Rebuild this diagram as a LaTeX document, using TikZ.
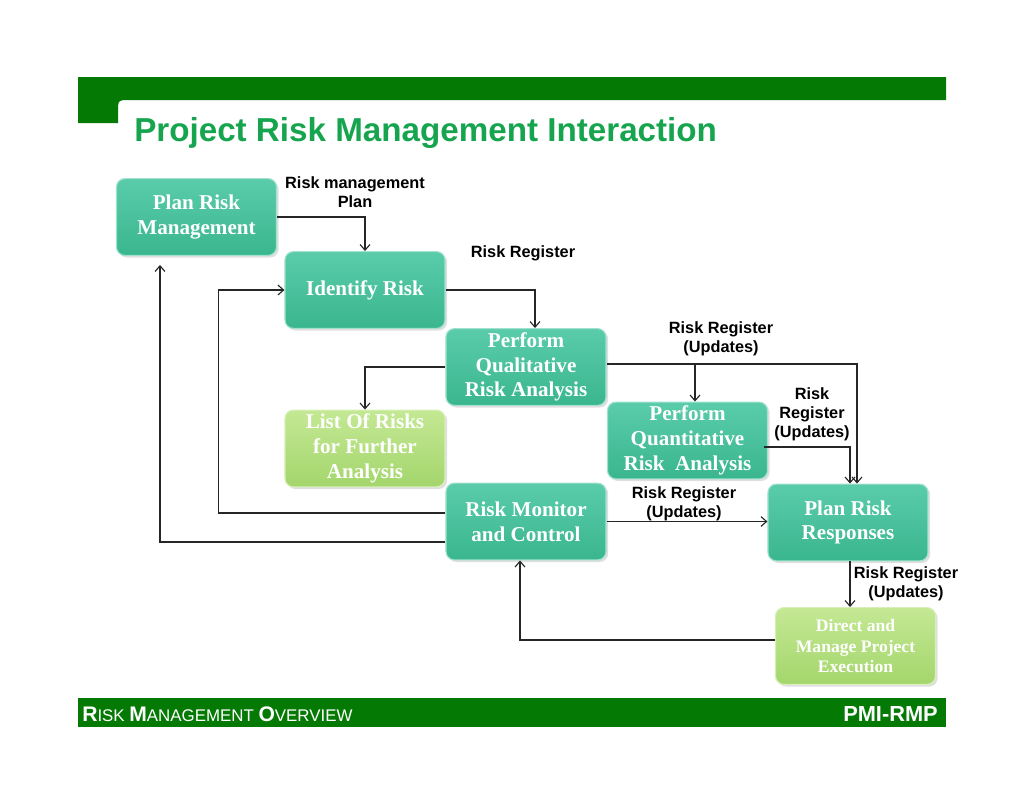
\documentclass[tikz,border=0pt]{standalone}
\usepackage{fontspec}
\setmainfont{Liberation Serif}
\newfontfamily\lblfont{Liberation Sans}
\usepackage{tikz}
\usetikzlibrary{arrows.meta,calc,shadows}

\definecolor{bargreen}{RGB}{4,122,4}
\definecolor{titlegreen}{RGB}{22,165,78}
\definecolor{tealtop}{RGB}{90,204,170}
\definecolor{tealbot}{RGB}{58,182,142}
\definecolor{tealrim}{RGB}{160,226,206}
\definecolor{limetop}{RGB}{196,232,148}
\definecolor{limebot}{RGB}{164,214,108}
\definecolor{limerim}{RGB}{214,240,184}

\begin{document}
\begin{tikzpicture}[x=0.025cm,y=-0.025cm,
    proc/.style={rectangle,rounded corners=6pt,minimum width=4cm,minimum height=1.92cm,
      top color=tealtop,bottom color=tealbot,draw=tealrim,line width=0.8pt,
      drop shadow={opacity=0.25,shadow xshift=1.5pt,shadow yshift=-1.5pt},
      text=white,font=\bfseries\fontsize{15}{17.6}\selectfont,align=center,inner sep=2pt},
    side/.style={proc,top color=limetop,bottom color=limebot,draw=limerim},
    arr/.style={draw=black!85,line width=0.8pt,-{Straight Barb[length=4pt,width=7pt]}},
    lbl/.style={font=\lblfont\bfseries\fontsize{11.6}{13.6}\selectfont,align=center,inner sep=0pt}]
  \useasboundingbox (0,0) rectangle (1024,792);
  % header and footer bars
  \fill[bargreen] (78,77) -- (946,77) -- (946,100) -- (130,100)
    .. controls (118,100) .. (118,112) -- (118,123) -- (78,123) -- cycle;
  \node[anchor=base west,inner sep=0pt,text=titlegreen,
    font=\lblfont\bfseries\fontsize{23.6}{26}\selectfont]
    (title) at (134,141) {Project Risk Management Interaction};
  \fill[bargreen] (78,698) rectangle (946,727);
  \node[anchor=base west,text=white,font=\lblfont,inner sep=0pt] (foot) at (82,721)
    {{\bfseries\fontsize{15}{16}\selectfont R}{\fontsize{12}{14}\selectfont ISK }%
     {\bfseries\fontsize{15}{16}\selectfont M}{\fontsize{12}{14}\selectfont ANAGEMENT }%
     {\bfseries\fontsize{15}{16}\selectfont O}{\fontsize{12}{14}\selectfont VERVIEW}};
  \node[anchor=base east,text=white,font=\lblfont\bfseries\fontsize{15.5}{17}\selectfont,inner sep=0pt]
    (pmi) at (938,721) {PMI-RMP};

  % process boxes
  \node[proc] (plan)  at (196.5,217)  {Plan Risk\\Management};
  \node[proc] (ident) at (365,290)    {Identify Risk};
  \node[proc] (qual)  at (526,367)    {Perform\\Qualitative\\Risk Analysis};
  \node[side] (list)  at (365,448.5)  {List Of Risks\\for Further\\Analysis};
  \node[proc] (quant) at (687.5,440.5){Perform\\Quantitative\\Risk\ \ Analysis};
  \node[proc] (mon)   at (526,521.5)  {Risk Monitor\\and Control};
  \node[proc] (resp)  at (848,522.5)  {Plan Risk\\Responses};
  \node[side,font=\bfseries\fontsize{12.5}{14.5}\selectfont] (exec) at (855.5,646)
    {Direct and\\Manage Project\\Execution};

  % connectors
  \coordinate (qq) at ($(quant.north)+(7.5,0)$);
  \coordinate (rr) at ($(resp.north)+(9,0)$);
  \coordinate (rs) at ($(resp.north)+(2,0)$);
  \draw[arr] (plan.east) -| (ident.north);
  \draw[arr] (ident.east) -| ($(qual.north)+(9,0)$);
  \draw[arr,{Straight Barb[length=4pt,width=7pt]}-] (list.north) |- (qual.west);
  \draw[arr] ($(qual.east)+(0,-3)$) -| (rr);
  \draw[arr] (qq |- rr |- qual.east) ++(0,-3) -- (qq);
  \draw[arr] ($(quant.east)+(-4,6.5)$) -| (rs);
  \draw[arr] (mon.east) -- (mon.east -| resp.west);
  \draw[arr] ($(resp.south)+(2,0)$) -- (rs |- exec.north);
  \draw[arr] ($(exec.west)+(0,-6)$) -| ($(mon.south)+(-6,0)$);
  \draw[arr] ($(mon.west)+(0,-8.5)$) -- ++(-227,0) |- (ident.west);
  \draw[arr] ($(mon.west)+(0,20.5)$) -| ($(plan.south)+(-36.5,9)$);

  % connector labels
  \node[lbl] (l1) at (355,192)  {Risk management\\Plan};
  \node[lbl] (l2) at (523,253)  {Risk Register};
  \node[lbl] (l3) at (721,339)  {Risk Register\\(Updates)};
  \node[lbl] (l4) at (812,414)  {Risk\\Register\\(Updates)};
  \node[lbl] (l5) at (684,504)  {Risk Register\\(Updates)};
  \node[lbl] (l6) at (906,584)  {Risk Register\\(Updates)};
\end{tikzpicture}
\end{document}
